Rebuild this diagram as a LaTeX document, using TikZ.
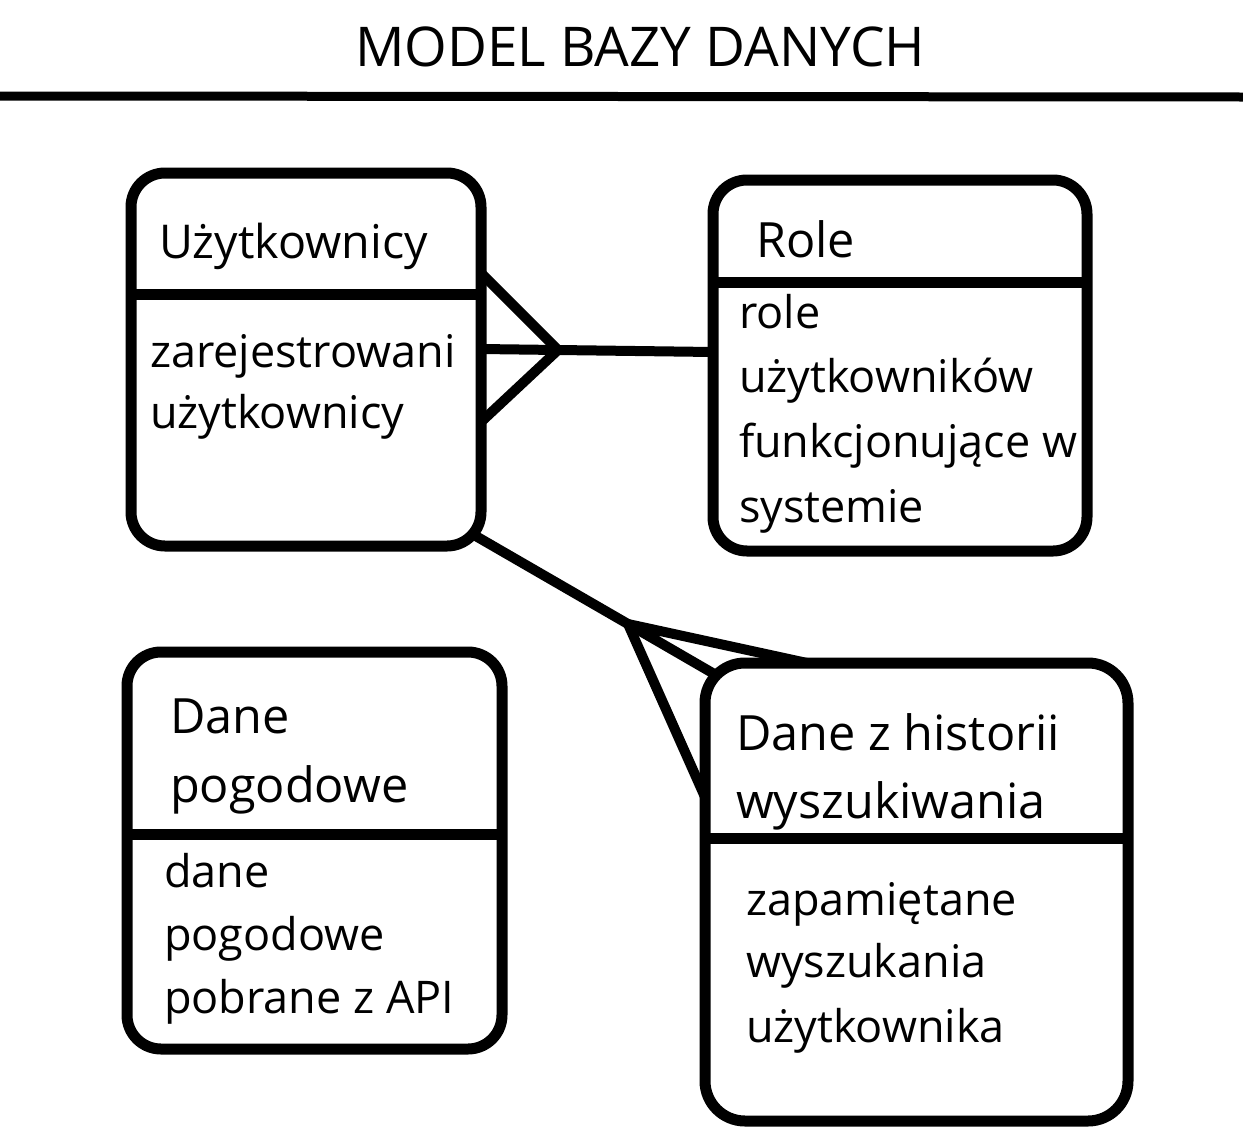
\documentclass[tikz,border=0pt]{standalone}
\usepackage{fontspec}
\setmainfont{Open Sans}
\begin{document}
\begin{tikzpicture}[x=0.5pt,y=-0.5pt,
  entity/.style={draw=black, line width=5.5pt, rounded corners=17pt, rectangle, inner sep=0pt, outer sep=0pt},
  divider/.style={draw=black, line width=5.5pt},
  link/.style={draw=black, line width=5pt},
  txt/.style={anchor=base west, inner sep=0pt, outer sep=0pt, font=\fontsize{22.5}{27}\selectfont},
  head/.style={anchor=base west, inner sep=0pt, outer sep=0pt, font=\fontsize{24.3}{28}\selectfont},
  ttl/.style={anchor=base, inner sep=0pt, outer sep=0pt, font=\fontsize{27.4}{31}\selectfont}]
\useasboundingbox (0,0) rectangle (1243,1146);
\fill[white] (0,0) rectangle (1243,1146);

% title
\node[ttl] (title) at (640,66) {MODEL BAZY DANYCH};
\coordinate (ruleL) at (0,96);
\coordinate (ruleR) at (1243,97);
\draw[line width=4.5pt] (ruleL) -- (ruleR);

% entities
\node[entity, minimum width=175pt, minimum height=186.5pt] (b1) at (306,359.5) {};
\node[entity, minimum width=187pt, minimum height=185.5pt] (b2) at (900,365.5) {};
\node[entity, minimum width=187.5pt, minimum height=198.5pt] (b3) at (314.5,850.5) {};
\node[entity, minimum width=211.5pt, minimum height=229pt, rounded corners=20pt] (b4) at (916.5,892) {};

% dividers
\draw[divider] (b1.west |- 0,294) -- (b1.east |- 0,294);
\draw[divider] (b2.west |- 0,282) -- (b2.east |- 0,282);
\draw[divider] (b3.west |- 0,834) -- (b3.east |- 0,834);
\draw[divider] (b4.west |- 0,838) -- (b4.east |- 0,838);

% texts
\node[txt, font=\fontsize{23.3}{27}\selectfont] (t1) at (159,258) {Użytkownicy};
\node[txt] (t1a) at (150,367) {zarejestrowani};
\node[txt] (t1b) at (150,428) {użytkownicy};

\node[head] (t2) at (756,257) {Role};
\node[txt] (t2a) at (739,328) {role};
\node[txt] (t2b) at (739,392) {użytkowników};
\node[txt] (t2c) at (739,457) {funkcjonujące w};
\node[txt] (t2d) at (739,522) {systemie};

\node[head] (t3) at (170,733) {Dane};
\node[head] (t3a) at (170,802) {pogodowe};
\node[txt] (t3b) at (164,887) {dane};
\node[txt] (t3c) at (164,950) {pogodowe};
\node[txt] (t3d) at (164,1013) {pobrane z API};

\node[head] (t4) at (736,750) {Dane z historii};
\node[head] (t4a) at (736,818) {wyszukiwania};
\node[txt] (t4b) at (746,915) {zapamiętane};
\node[txt] (t4c) at (746,977) {wyszukania};
\node[txt] (t4d) at (746,1042) {użytkownika};

% connector Użytkownicy -- Role (crow's foot at Użytkownicy)
\coordinate (j1) at (558,350);
\coordinate (u1) at (b1.east |- 0,273);
\coordinate (u2) at (b1.east |- 0,349);
\coordinate (u3) at (b1.east |- 0,422);
\coordinate (r1) at (b2.west |- 0,352);
\draw[link] (u1) -- (j1) -- (u3);
\draw[link] (u2) -- (j1) -- (r1);

% connector Użytkownicy -- Dane z historii (crow's foot at Dane z historii)
\coordinate (s2) at (474,535);
\coordinate (j2) at (628,624);
\coordinate (h1) at (807,663);
\coordinate (h2) at (716,675);
\coordinate (h3) at (b4.west |- 0,797);
\draw[link] (s2) -- (j2);
\draw[link, line join=round] (h1) -- (j2) -- (h2);
\draw[link, line join=round] (j2) -- (h3);
\end{tikzpicture}
\end{document}
